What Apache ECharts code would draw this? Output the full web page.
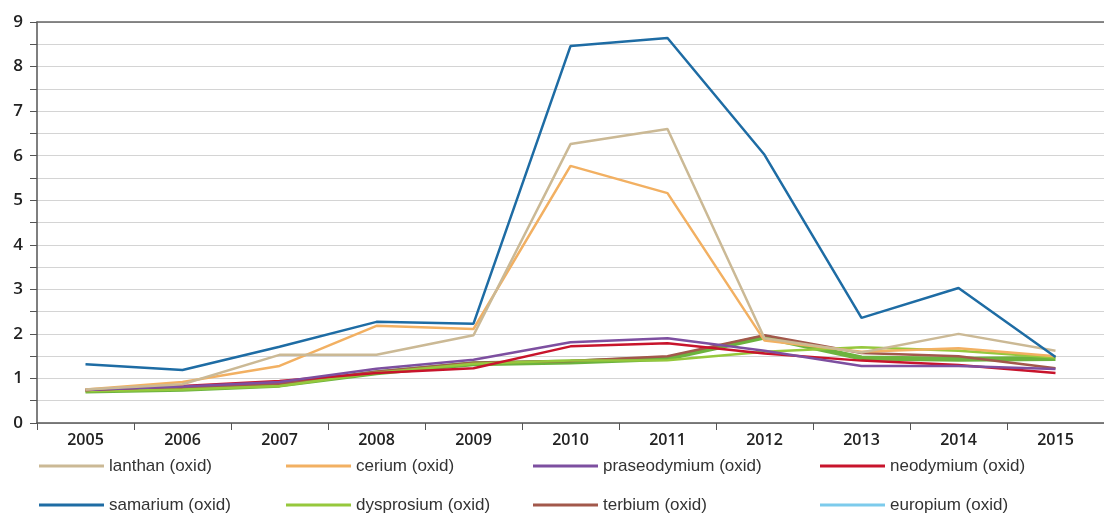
<!DOCTYPE html>
<html>
<head>
<meta charset="utf-8">
<script src="https://cdn.jsdelivr.net/npm/echarts@6/dist/echarts.min.js"></script>
<style>html,body{margin:0;padding:0;background:#fff;}#c{width:1104px;height:514px;}</style>
</head>
<body>
<div id="c"></div>
<script>
var years = ['2005','2006','2007','2008','2009','2010','2011','2012','2013','2014','2015'];
var lanthan      = [0.75, 0.87, 1.53, 1.53, 1.97, 6.26, 6.60, 1.90, 1.58, 2.00, 1.62];
var cerium       = [0.75, 0.92, 1.28, 2.18, 2.11, 5.77, 5.16, 1.85, 1.60, 1.68, 1.50];
var praseodymium = [0.74, 0.82, 0.92, 1.22, 1.42, 1.81, 1.90, 1.62, 1.28, 1.28, 1.21];
var neodymium    = [0.74, 0.83, 0.94, 1.12, 1.23, 1.72, 1.79, 1.56, 1.40, 1.30, 1.12];
var samarium     = [1.32, 1.19, 1.71, 2.27, 2.23, 8.46, 8.64, 6.02, 2.36, 3.03, 1.48];
var dysprosium   = [0.71, 0.75, 0.83, 1.13, 1.33, 1.40, 1.41, 1.60, 1.70, 1.62, 1.47];
var terbium      = [0.73, 0.79, 0.88, 1.15, 1.35, 1.39, 1.50, 1.97, 1.57, 1.50, 1.23];
var europium     = [0.72, 0.76, 0.85, 1.13, 1.33, 1.37, 1.45, 1.93, 1.46, 1.43, 1.45];
var yTicks = [0,1,2,3,4,5,6,7,8,9];

var chart = echarts.init(document.getElementById('c'));
function ser(name, data, color, width, z) {
  return {name: name, type: 'line', data: data, symbol: 'none', z: z || 2,
    lineStyle: {color: color, width: width || 2.5}, itemStyle: {color: color}};
}
var legendText = {fontFamily: 'Liberation Sans', fontSize: 17, color: '#333', lineHeight: 20};
function li(name, w, color) {
  var o = {name: name, textStyle: {width: w}};
  if (color) o.itemStyle = {color: color};
  return o;
}
chart.setOption({
  animation: false,
  grid: {left: 37, top: 22, width: 1079, height: 401},
  legend: [
    {left: 39, top: 456, padding: 0, icon: 'rect', itemWidth: 65, itemHeight: 3, itemGap: 0, textStyle: legendText,
     data: [li('lanthan (oxid)', 177), li('cerium (oxid)', 177), li('praseodymium (oxid)', 217), li('neodymium (oxid)', 160)]},
    {left: 39, top: 495, padding: 0, icon: 'rect', itemWidth: 65, itemHeight: 3, itemGap: 0, textStyle: legendText,
     data: [li('samarium (oxid)', 177), li('dysprosium (oxid)', 177), li('terbium (oxid)', 217), li('europium (oxid)', 160, '#7ccbec')]}
  ],
  xAxis: [{
    type: 'category', data: years,
    axisLine: {lineStyle: {color: '#555', width: 1.5}},
    axisTick: {show: true, length: 7, lineStyle: {color: '#555'}},
    axisLabel: {fontFamily: 'Open Sans', fontWeight: 600, fontSize: 16, color: '#222', margin: 9}
  }, {
    type: 'category', data: years, position: 'top',
    axisLine: {show: true, lineStyle: {color: '#666', width: 1.5}},
    axisTick: {show: false}, axisLabel: {show: false}
  }],
  yAxis: {
    type: 'value', min: 0, max: 9, interval: 0.5,
    axisLine: {show: true, lineStyle: {color: '#555', width: 1.5}},
    axisTick: {show: true, length: 7, lineStyle: {color: '#555'}},
    splitLine: {lineStyle: {color: '#d4d4d4', width: 1.2}},
    axisLabel: {fontFamily: 'Open Sans', fontWeight: 600, fontSize: 17, color: '#222', margin: 14,
      formatter: function (v) { return yTicks.indexOf(v) >= 0 ? String(v) : ''; }}
  },
  series: [
    ser('europium (oxid)', europium, '#6cb33e', 5, 1),
    ser('terbium (oxid)', terbium, '#a2584b', 2.5),
    ser('dysprosium (oxid)', dysprosium, '#96c83c', 2.5),
    ser('neodymium (oxid)', neodymium, '#c8142c', 2.5),
    ser('praseodymium (oxid)', praseodymium, '#7d4fa0', 2.5),
    ser('cerium (oxid)', cerium, '#f2b062', 2.5),
    ser('lanthan (oxid)', lanthan, '#cbb995', 2.5),
    ser('samarium (oxid)', samarium, '#1e6ca4', 2.5)
  ]
});
</script>
</body>
</html>
